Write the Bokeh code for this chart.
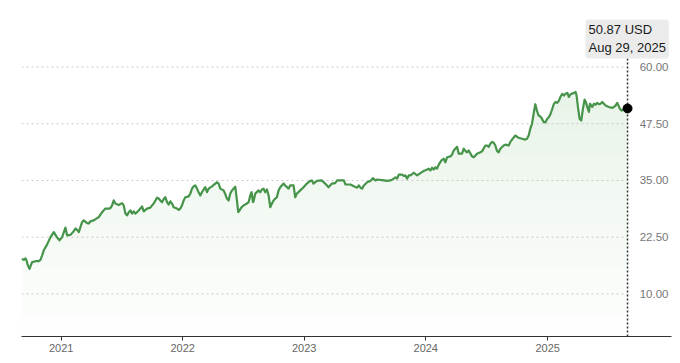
import numpy as np
import pandas as pd
from bokeh.plotting import figure
from bokeh.models import Range1d, FixedTicker, DatetimeTickFormatter, Label
from bokeh.core.properties import value
from bokeh.embed import file_html
from bokeh.resources import INLINE

# ---- data (weekly-ish closes) ----
dates = [
    "2020-09-04", "2020-09-11", "2020-09-16", "2020-09-19", "2020-09-23", "2020-09-28", "2020-10-02",
    "2020-10-06", "2020-10-16", "2020-10-26", "2020-10-31", "2020-11-05", "2020-11-10", "2020-11-20",
    "2020-11-30", "2020-12-10", "2020-12-20", "2020-12-27", "2021-01-04", "2021-01-14", "2021-01-19",
    "2021-01-29", "2021-02-08", "2021-02-13", "2021-02-18", "2021-02-23", "2021-03-05", "2021-03-10",
    "2021-03-20", "2021-03-25", "2021-03-30", "2021-04-09", "2021-04-19", "2021-04-24", "2021-05-04",
    "2021-05-14", "2021-05-24", "2021-05-29", "2021-06-03", "2021-06-08", "2021-06-13", "2021-06-23",
    "2021-07-03", "2021-07-08", "2021-07-13", "2021-07-18", "2021-07-23", "2021-07-28", "2021-08-02",
    "2021-08-07", "2021-08-12", "2021-08-17", "2021-08-27", "2021-09-01", "2021-09-06", "2021-09-16",
    "2021-09-26", "2021-10-01", "2021-10-06", "2021-10-16", "2021-10-21", "2021-10-26", "2021-10-31",
    "2021-11-05", "2021-11-10", "2021-11-15", "2021-11-20", "2021-11-25", "2021-11-30", "2021-12-05",
    "2021-12-15", "2021-12-20", "2021-12-25", "2021-12-30", "2022-01-04", "2022-01-09", "2022-01-19",
    "2022-01-24", "2022-01-29", "2022-02-03", "2022-02-08", "2022-02-13", "2022-02-18", "2022-02-23",
    "2022-02-28", "2022-03-05", "2022-03-10", "2022-03-15", "2022-03-20", "2022-03-30", "2022-04-09",
    "2022-04-14", "2022-04-19", "2022-04-24", "2022-05-04", "2022-05-09", "2022-05-14", "2022-05-19",
    "2022-05-24", "2022-05-29", "2022-06-08", "2022-06-13", "2022-06-17", "2022-06-21", "2022-06-27",
    "2022-07-03", "2022-07-13", "2022-07-18", "2022-07-23", "2022-07-27", "2022-07-31", "2022-08-02",
    "2022-08-07", "2022-08-17", "2022-08-22", "2022-08-27", "2022-09-01", "2022-09-06", "2022-09-11",
    "2022-09-16", "2022-09-21", "2022-09-26", "2022-10-01", "2022-10-06", "2022-10-11", "2022-10-16",
    "2022-10-21", "2022-10-31", "2022-11-05", "2022-11-15", "2022-11-20", "2022-11-30", "2022-12-05",
    "2022-12-10", "2022-12-20", "2022-12-30", "2023-01-09", "2023-01-19", "2023-01-24", "2023-01-29",
    "2023-02-08", "2023-02-23", "2023-03-05", "2023-03-15", "2023-03-25", "2023-04-04", "2023-04-10",
    "2023-04-30", "2023-05-05", "2023-05-20", "2023-05-30", "2023-06-09", "2023-06-14", "2023-06-19",
    "2023-06-24", "2023-06-29", "2023-07-09", "2023-07-19", "2023-07-26", "2023-08-03", "2023-08-08",
    "2023-08-28", "2023-09-07", "2023-09-17", "2023-09-27", "2023-10-02", "2023-10-07", "2023-10-12",
    "2023-10-22", "2023-10-27", "2023-11-01", "2023-11-06", "2023-11-11", "2023-11-16", "2023-11-26",
    "2023-12-06", "2023-12-16", "2023-12-26", "2024-01-05", "2024-01-10", "2024-01-15", "2024-01-20",
    "2024-01-25", "2024-01-30", "2024-02-04", "2024-02-09", "2024-02-14", "2024-02-17", "2024-02-24",
    "2024-02-29", "2024-03-05", "2024-03-15", "2024-03-20", "2024-03-25", "2024-04-04", "2024-04-09",
    "2024-04-19", "2024-04-24", "2024-04-29", "2024-05-04", "2024-05-09", "2024-05-19", "2024-05-24",
    "2024-06-03", "2024-06-13", "2024-06-18", "2024-06-28", "2024-07-03", "2024-07-08", "2024-07-13",
    "2024-07-18", "2024-07-23", "2024-07-28", "2024-08-02", "2024-08-07", "2024-08-12", "2024-08-22",
    "2024-08-27", "2024-09-06", "2024-09-11", "2024-09-16", "2024-09-26", "2024-10-06", "2024-10-16",
    "2024-10-26", "2024-10-31", "2024-11-05", "2024-11-10", "2024-11-15", "2024-11-20", "2024-11-25",
    "2024-11-30", "2024-12-05", "2024-12-10", "2024-12-15", "2024-12-20", "2024-12-25", "2024-12-31",
    "2025-01-05", "2025-01-10", "2025-01-15", "2025-01-20", "2025-01-25", "2025-01-30", "2025-02-04",
    "2025-02-09", "2025-02-14", "2025-02-19", "2025-02-24", "2025-03-01", "2025-03-06", "2025-03-11",
    "2025-03-21", "2025-03-26", "2025-03-29", "2025-04-02", "2025-04-07", "2025-04-12", "2025-04-17",
    "2025-04-22", "2025-04-26", "2025-04-30", "2025-05-05", "2025-05-08", "2025-05-12", "2025-05-15",
    "2025-05-20", "2025-05-25", "2025-05-30", "2025-06-04", "2025-06-09", "2025-06-14", "2025-06-19",
    "2025-06-24", "2025-07-04", "2025-07-14", "2025-07-19", "2025-07-24", "2025-07-29", "2025-08-02",
    "2025-08-06", "2025-08-11", "2025-08-16", "2025-08-21", "2025-08-29",
]
prices = [
    17.7, 17.5, 17.8, 17.4, 16.3, 15.5, 16.3,
    17.0, 17.2, 17.2, 17.5, 18.5, 19.6, 20.9,
    22.5, 23.6, 22.4, 21.8, 22.5, 24.6, 22.9,
    23.0, 23.8, 24.4, 24.1, 23.6, 25.8, 26.2,
    25.6, 25.5, 26.0, 26.2, 26.7, 26.9, 28.0,
    28.8, 28.8, 28.9, 29.5, 30.6, 29.9, 29.6,
    30.0, 29.5, 27.7, 27.3, 28.0, 28.4, 27.7,
    28.2, 27.7, 28.0, 28.8, 29.3, 28.2, 28.8,
    29.0, 29.5, 29.9, 31.2, 31.0, 30.6, 30.2,
    30.9, 31.3, 30.2, 29.7, 30.4, 29.9, 29.1,
    28.8, 28.5, 28.8, 29.5, 30.6, 31.3, 31.5,
    32.1, 33.2, 33.7, 33.9, 33.2, 32.4, 31.7,
    32.4, 33.0, 33.5, 32.4, 33.2, 33.7, 34.3,
    34.6, 34.3, 33.2, 32.8, 32.0, 31.0, 30.6,
    32.1, 32.8, 33.6, 30.6, 28.0, 28.4, 29.1,
    29.5, 29.9, 30.2, 31.7, 32.4, 30.2, 30.4,
    32.1, 32.8, 32.4, 33.0, 33.2, 32.4, 33.0,
    31.7, 29.1, 29.9, 30.6, 31.0, 31.3, 32.8,
    33.5, 34.3, 33.9, 33.2, 33.9, 33.9, 31.3,
    32.1, 32.8, 33.5, 34.3, 34.9, 35.0, 34.3,
    34.9, 35.0, 34.3, 33.5, 34.3, 34.4, 35.0,
    35.0, 34.1, 34.1, 33.7, 33.4, 33.9, 33.4,
    33.2, 33.9, 34.6, 34.9, 35.5, 35.0, 35.2,
    35.0, 34.9, 35.0, 35.4, 35.7, 35.4, 36.3,
    36.3, 36.0, 36.1, 35.4, 36.1, 36.1, 36.7,
    36.1, 36.6, 37.1, 37.4, 37.6, 37.2, 37.8,
    37.4, 37.9, 37.6, 38.5, 39.1, 39.4, 39.8,
    39.0, 40.1, 40.3, 40.7, 41.6, 42.4, 40.9,
    40.9, 42.0, 41.5, 41.2, 41.6, 40.3, 40.1,
    40.9, 41.2, 41.4, 42.7, 42.7, 42.4, 43.1,
    43.5, 43.3, 42.7, 41.5, 41.2, 42.0, 42.7,
    42.9, 42.7, 43.5, 44.0, 44.9, 44.4, 44.2,
    44.0, 44.2, 44.9, 46.4, 47.5, 49.7, 51.8,
    50.4, 49.3, 49.1, 48.6, 47.9, 47.8, 48.6,
    49.0, 49.7, 50.8, 51.9, 52.3, 52.1, 52.6,
    53.5, 54.1, 53.7, 54.1, 54.3, 53.4, 54.0,
    54.3, 54.5, 53.7, 51.2, 48.6, 48.2, 50.8,
    52.8, 52.3, 51.2, 50.1, 51.9, 51.5, 51.2,
    51.9, 51.7, 52.1, 51.8, 51.9, 52.3, 51.9,
    51.5, 51.2, 51.0, 51.2, 51.5, 52.1, 51.5,
    50.8, 50.4, 50.6, 51.0, 50.87,
]
y_ticks = [10.0, 22.5, 35.0, 47.5, 60.0]
x_tick_years = ["2021-01-01", "2022-01-01", "2023-01-01", "2024-01-01", "2025-01-01"]
last_label = "50.87 USD\nAug 29, 2025"

# ---- build ----
x = pd.to_datetime(dates)
y = np.array(prices)
x_start = pd.Timestamp("2020-09-04")
x_end = pd.Timestamp("2026-01-08")
y_start, y_end = 0.6, 72.9

p = figure(width=672, height=355, x_axis_type="datetime", y_axis_location=None,
           x_range=Range1d(x_start, x_end), y_range=Range1d(y_start, y_end),
           toolbar_location=None, output_backend="svg",
           min_border_left=21, min_border_right=1, min_border_top=8, min_border_bottom=19)
p.outline_line_color = None
p.background_fill_color = "white"
p.border_fill_color = "white"
p.grid.visible = False

# gradient-like fill under the line (stacked faint layers)
for lev in np.arange(y_start, 55, 5):
    p.varea(x=x, y1=lev, y2=np.maximum(y, lev), fill_color="#7cc576", fill_alpha=0.013)

# dotted horizontal grid lines
p.segment(x0=[x[0]] * len(y_ticks), x1=[x[-1]] * len(y_ticks), y0=y_ticks, y1=y_ticks,
          line_color="#c9c9c9", line_width=1, line_dash="2 3")

# price line
p.line(x, y, line_color="#46934a", line_width=2.2, line_join="round")

# vertical dotted marker line + last point
p.segment(x0=[x[-1]], x1=[x[-1]], y0=[y_start], y1=[61.9],
          line_color="#333333", line_width=1.5, line_dash="2 2")
p.scatter([x[-1]], [y[-1]], size=9, color="black")

# y labels inside the plot at the right
p.text(x=[x_end] * len(y_ticks), y=y_ticks, text=[f"{v:.2f}" for v in y_ticks],
       text_font=value("Liberation Sans"), text_font_size="11.5px", text_color="#777777",
       text_align="right", text_baseline="middle", x_offset=-3)

# callout label
lab = Label(x=x[-1], y=61.9, x_offset=-42, text=last_label,
            text_font="Liberation Sans", text_font_size="13px", text_color="#1a1a1a",
            anchor="bottom_left", padding=3, border_radius=3,
            background_fill_color="#ebebeb", background_fill_alpha=1.0,
            border_line_color=None)
p.add_layout(lab)

# x axis
ax = p.xaxis[0]
ax.ticker = FixedTicker(ticks=[pd.Timestamp(d).value / 1e6 for d in x_tick_years])
ax.formatter = DatetimeTickFormatter(years="%Y", months="%Y", days="%Y", hours="%Y")
ax.axis_line_color = "#333333"
ax.axis_line_width = 1
ax.major_tick_line_color = "#333333"
ax.major_tick_in = 0
ax.major_tick_out = 4
ax.minor_tick_line_color = None
ax.major_label_text_font = "Liberation Sans"
ax.major_label_text_font_size = "11px"
ax.major_label_text_color = "#666666"
ax.major_label_standoff = 3

open("out.html", "w").write(file_html(p, INLINE))
